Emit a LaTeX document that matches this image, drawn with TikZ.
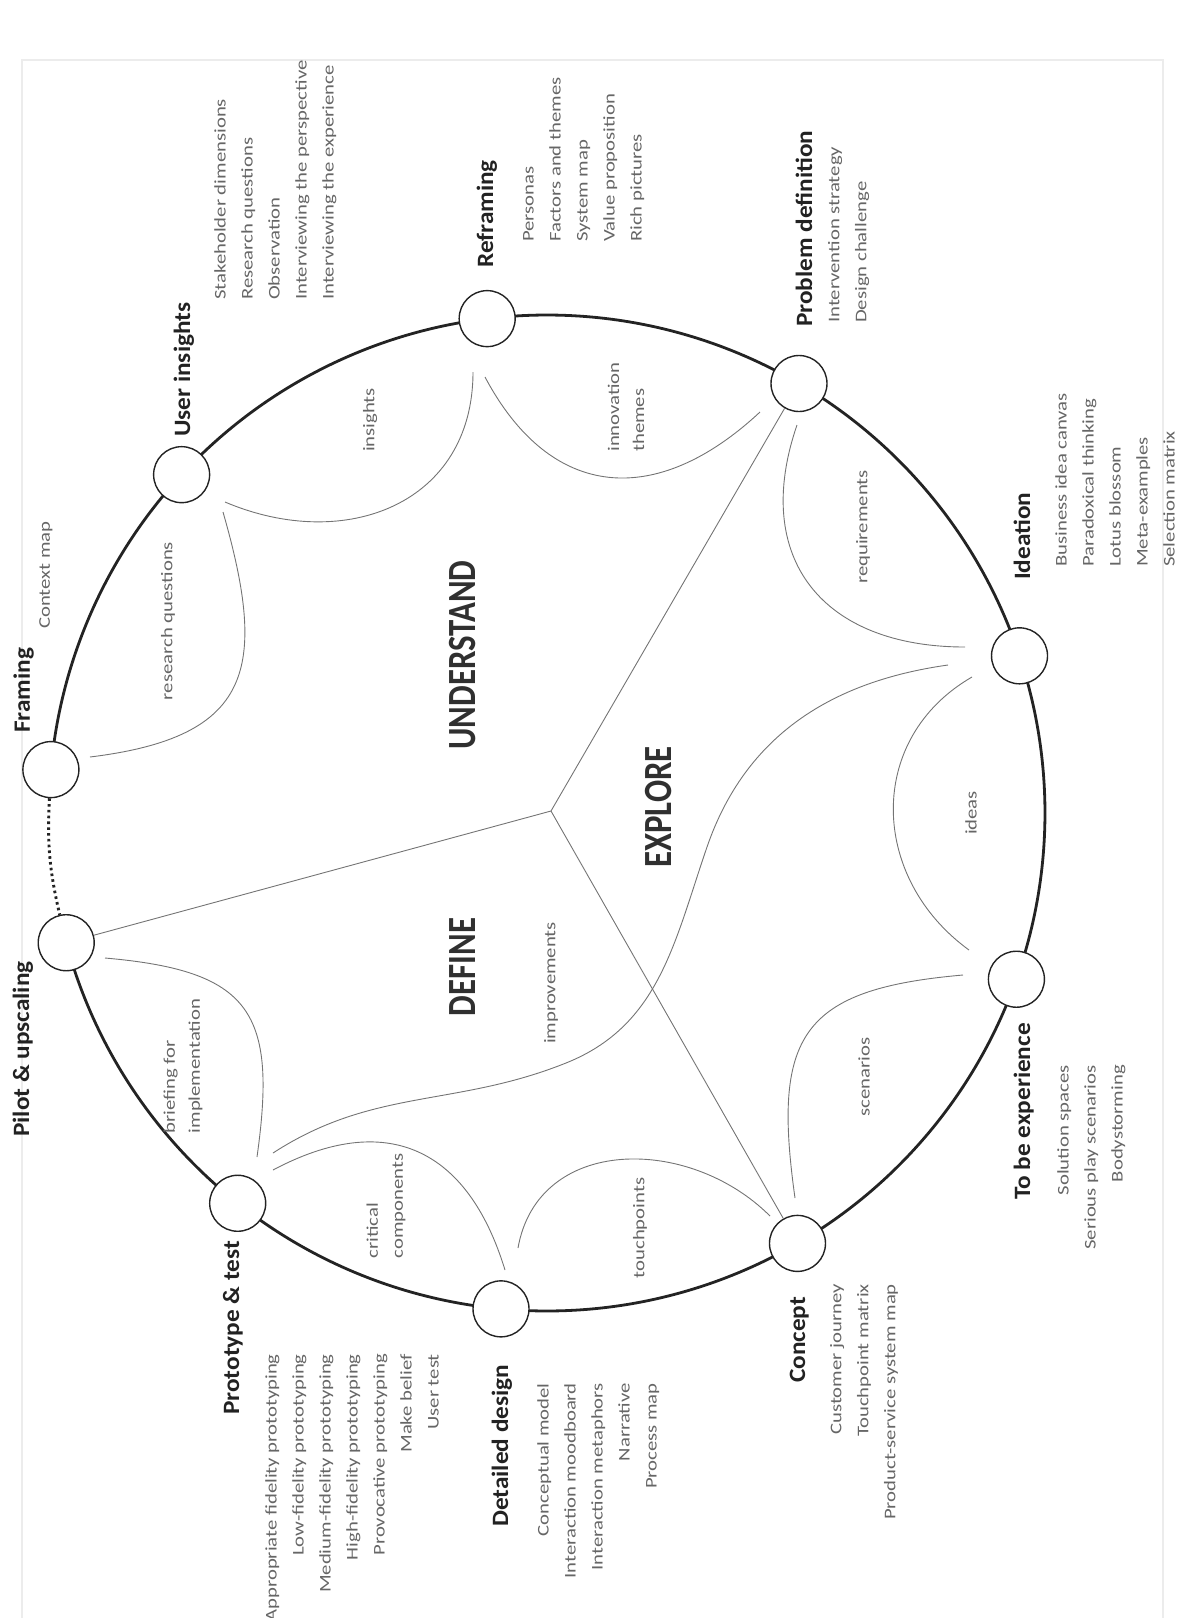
\documentclass[tikz,border=0pt]{standalone}
\usepackage{fontspec}
\newfontfamily\listfont{Carlito}[FakeStretch=1.27]
\newfontfamily\headfont{Carlito}[FakeStretch=1.08]
\newfontfamily\zonefont{Carlito}[FakeStretch=0.82]
\usetikzlibrary{calc,backgrounds}
\definecolor{rimcol}{HTML}{232323}
\definecolor{linecol}{HTML}{747474}
\definecolor{txtcol}{HTML}{666666}
\definecolor{headcol}{HTML}{222222}
\definecolor{zonecol}{HTML}{303030}
\definecolor{framecol}{HTML}{ECECEC}

\begin{document}
\begin{tikzpicture}[x=1pt,y=1pt,
  rimline/.style={line width=2.8pt, draw=rimcol},
  petal/.style={line width=0.9pt, draw=linecol},
  stagenode/.style={circle, draw=rimcol, line width=1.4pt, fill=white, minimum size=56pt, inner sep=0pt},
  stagetitle/.style={rotate=90, anchor=base west, inner sep=0pt, text=headcol,
    font=\headfont\bfseries\fontsize{23.4}{28}\selectfont},
  toollist/.style={rotate=90, inner sep=0pt, text=txtcol,
    font=\listfont\fontsize{16.3}{27}\selectfont},
  flowlabel/.style={rotate=90, inner sep=0pt, text=txtcol, align=left,
    font=\listfont\fontsize{16.3}{25}\selectfont},
  zonelabel/.style={rotate=90, inner sep=0pt, text=zonecol,
    font=\zonefont\bfseries\fontsize{40}{44}\selectfont},
]
\useasboundingbox (0,0) rectangle (1181,-1618);

% faint page frame
\draw[framecol, line width=1.2pt] (22,-60) rectangle (1163,-1660);

% centre of the process wheel and hub of the three phases
\coordinate (O) at (547,-813);
\coordinate (hub) at (551,-811);

% stages on the wheel
\foreach \n/\a in {fr/175, ui/137.2, rf/96.9, pd/59.6, id/18.4, tb/-19.5,
                   cp/-59.8, dd/-95.3, pt/-128.4, pl/-164.9}
  \node[stagenode] (\n) at ($(O)+(\a:498)$) {};

% the wheel itself, running behind the stage circles
\begin{scope}[on background layer]
  \foreach \n/\a/\b in {fr/175/137.2, ui/137.2/96.9, rf/96.9/59.6, pd/59.6/18.4,
                        id/18.4/-19.5, tb/-19.5/-59.8, cp/-59.8/-95.3,
                        dd/-95.3/-128.4, pt/-128.4/-164.9}
    \draw[rimline] (\n.center) arc[start angle=\a, end angle=\b, radius=498];
  \draw[rimline, line width=2.9pt, dash pattern=on 2.6pt off 3.2pt] (fr) to[bend right=8] (pl);
\end{scope}

% phase boundaries
\draw[petal] (hub) -- (pl);
\draw[petal] (hub) -- (pd);
\draw[petal] (hub) -- (cp);

% ends of the exchange arcs
\coordinate (rq-a) at (90,-757);    \coordinate (rq-b) at (223,-512);
\coordinate (in-a) at (225,-502);   \coordinate (in-b) at (473,-372);
\coordinate (it-a) at (485,-377);   \coordinate (it-b) at (760,-412);
\coordinate (re-a) at (797,-425);   \coordinate (re-b) at (965,-647);
\coordinate (id-a) at (972,-677);   \coordinate (id-b) at (969,-950);
\coordinate (sc-a) at (963,-975);   \coordinate (sc-b) at (795,-1198);
\coordinate (tp-a) at (770,-1216);  \coordinate (tp-b) at (518,-1248);
\coordinate (cc-a) at (505,-1270);  \coordinate (cc-b) at (273,-1170);
\coordinate (bi-a) at (257,-1157);  \coordinate (bi-b) at (105,-958);
\coordinate (im-a) at (948,-665);   \coordinate (im-b) at (273,-1153);

% exchange arcs between neighbouring stages
\draw[petal] (rq-a) to[out=7,   in=-74,  looseness=1.5]  (rq-b);
\draw[petal] (in-a) to[out=-23, in=-90,  looseness=1.2]  (in-b);
\draw[petal] (it-a) to[out=-62, in=-137, looseness=1.3]  (it-b);
\draw[petal] (re-a) to[out=-109,in=180,  looseness=1.3]  (re-b);
\draw[petal] (id-a) to[out=210, in=144,  looseness=1.15] (id-b);
\draw[petal] (sc-a) to[out=185, in=98,   looseness=1.5]  (sc-b);
\draw[petal] (tp-a) to[out=135, in=80,   looseness=1.15] (tp-b);
\draw[petal] (cc-a) to[out=107, in=28,   looseness=1.3]  (cc-b);
\draw[petal] (bi-a) to[out=82,  in=-5,   looseness=1.5]  (bi-b);
% long feedback sweep from ideation back to prototyping
\draw[petal] (im-a) to[out=188, in=71] (707,-847)
                    to[out=251, in=21.8] (566,-1063)
                    to[out=201.8, in=33] (im-b);

% labels of the exchange arcs
\node[flowlabel] (l-rq) at (168,-621)  {research questions};
\node[flowlabel] (l-in) at (370,-420)  {insights};
\node[flowlabel] (l-it) at (626,-407)  {innovation\\themes};
\node[flowlabel] (l-re) at (863,-527)  {requirements};
\node[flowlabel] (l-id) at (971,-813)  {ideas};
\node[flowlabel] (l-sc) at (864,-1077) {scenarios};
\node[flowlabel] (l-tp) at (640,-1228) {touchpoints};
\node[flowlabel] (l-cc) at (386,-1206) {critical\\components};
\node[flowlabel] (l-bi) at (183,-1066) {briefing for\\implementation};
\node[flowlabel] (l-im) at (551,-983)  {improvements};

% phases
\node[zonelabel] (z-und) at (463,-655) {UNDERSTAND};
\node[zonelabel] (z-exp) at (659,-807) {EXPLORE};
\node[zonelabel] (z-def) at (463,-967) {DEFINE};

% stage titles
\node[stagetitle] (t-fr) at (30,-733)   {Framing};
\node[stagetitle] (t-ui) at (190,-437)  {User insights};
\node[stagetitle] (t-rf) at (493,-268)  {Reframing};
\node[stagetitle] (t-pd) at (812,-327)  {Problem definition};
\node[stagetitle] (t-id) at (1030,-580) {Ideation};
\node[stagetitle] (t-tb) at (1030,-1200){To be experience};
\node[stagetitle] (t-cp) at (805,-1383) {Concept};
\node[stagetitle] (t-dd) at (508,-1527) {Detailed design};
\node[stagetitle] (t-pt) at (239,-1415) {Prototype \& test};
\node[stagetitle] (t-pl) at (29,-1137)  {Pilot \& upscaling};

% methods per stage
\node[toollist, anchor=north west, align=left] (m-fr) at (39,-629) {Context map};
\node[toollist, anchor=north west, align=left] (m-ui) at (214,-300)
  {Stakeholder dimensions\\Research questions\\Observation\\Interviewing the perspective\\Interviewing the experience};
\node[toollist, anchor=north west, align=left] (m-rf) at (523,-242)
  {Personas\\Factors and themes\\System map\\Value proposition\\Rich pictures};
\node[toollist, anchor=north west, align=left] (m-pd) at (828,-323)
  {Intervention strategy\\Design challenge};
\node[toollist, anchor=north west, align=left] (m-id) at (1055,-567)
  {Business idea canvas\\Paradoxical thinking\\Lotus blossom\\Meta-examples\\Selection matrix};
\node[toollist, anchor=north east, align=right] (m-tb) at (1057,-1065)
  {Solution spaces\\Serious play scenarios\\Bodystorming};
\node[toollist, anchor=north east, align=right] (m-cp) at (830,-1284)
  {Customer journey\\Touchpoint matrix\\Product-service system map};
\node[toollist, anchor=north east, align=right] (m-dd) at (537,-1383)
  {Conceptual model\\Interaction moodboard\\Interaction metaphors\\Narrative\\Process map};
\node[toollist, anchor=north east, align=right] (m-pt) at (265,-1354)
  {Appropriate fidelity prototyping\\Low-fidelity prototyping\\Medium-fidelity prototyping\\High-fidelity prototyping\\Provocative prototyping\\Make belief\\User test};
\end{tikzpicture}
\end{document}
